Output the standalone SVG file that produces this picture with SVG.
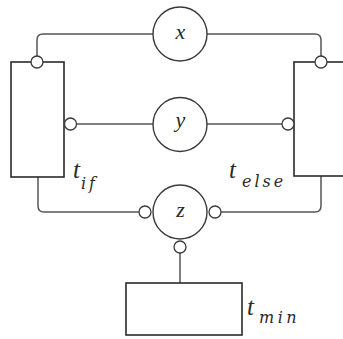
<svg xmlns="http://www.w3.org/2000/svg" width="343" height="339" viewBox="0 0 343 339">
<style>
.box{fill:#fff;stroke:#2a2a2a;stroke-width:1.6}
.node{fill:#fff;stroke:#3a3a3a;stroke-width:1.4}
.port{fill:#fff;stroke:#3a3a3a;stroke-width:1.3}
.wire{fill:none;stroke:#555;stroke-width:1.5}
.lbl{font-family:"Liberation Serif",serif;font-style:italic;fill:#2a2a2a}
.sub{font-family:"DejaVu Serif",serif;font-style:italic;fill:#2a2a2a;font-size:16px}
</style>
<rect width="343" height="339" fill="#fff"/>
<g id="connectors">
<path class="wire" d="M153,34 H43 Q37,34 37,40 V56"/>
<path class="wire" d="M207,34 H315 Q321,34 321,40 V56"/>
<path class="wire" d="M76.5,124 H153"/>
<path class="wire" d="M207,124 H282"/>
<path class="wire" d="M38,177 V206 Q38,212 44,212 H139"/>
<path class="wire" d="M321,176 V206 Q321,212 315,212 H221"/>
<path class="wire" d="M180,253 V283"/>
</g>
<g id="t_if">
<rect class="box" x="11" y="62" width="53" height="115"/>
<circle class="port" cx="37" cy="62" r="6"/>
<circle class="port" cx="70.5" cy="124" r="6"/>
<text class="lbl" x="73" y="178" font-size="25">t</text>
<text class="sub" x="81" y="189" letter-spacing="3">if</text>
</g>
<g id="t_else">
<rect class="box" x="294" y="62" width="60" height="114"/>
<circle class="port" cx="321" cy="62" r="6"/>
<circle class="port" cx="288" cy="124" r="6"/>
<text class="lbl" x="229" y="178" font-size="25">t</text>
<text class="sub" x="242" y="187" letter-spacing="3">else</text>
</g>
<g id="t_min">
<rect class="box" x="126" y="283" width="116" height="52"/>
<text class="lbl" x="247" y="315" font-size="25">t</text>
<text class="sub" x="259" y="323" letter-spacing="3.5">min</text>
</g>
<g id="x">
<circle class="node" cx="180" cy="34" r="27"/>
<text class="lbl" x="180.5" y="39" font-size="22" text-anchor="middle">x</text>
</g>
<g id="y">
<circle class="node" cx="180" cy="124.5" r="27"/>
<text class="lbl" x="180.5" y="127" font-size="22" text-anchor="middle">y</text>
</g>
<g id="z">
<circle class="node" cx="180" cy="212" r="27"/>
<circle class="port" cx="145" cy="212" r="6"/>
<circle class="port" cx="215" cy="212" r="6"/>
<circle class="port" cx="180" cy="247" r="6"/>
<text class="lbl" x="180.5" y="217" font-size="22" text-anchor="middle">z</text>
</g>
</svg>
